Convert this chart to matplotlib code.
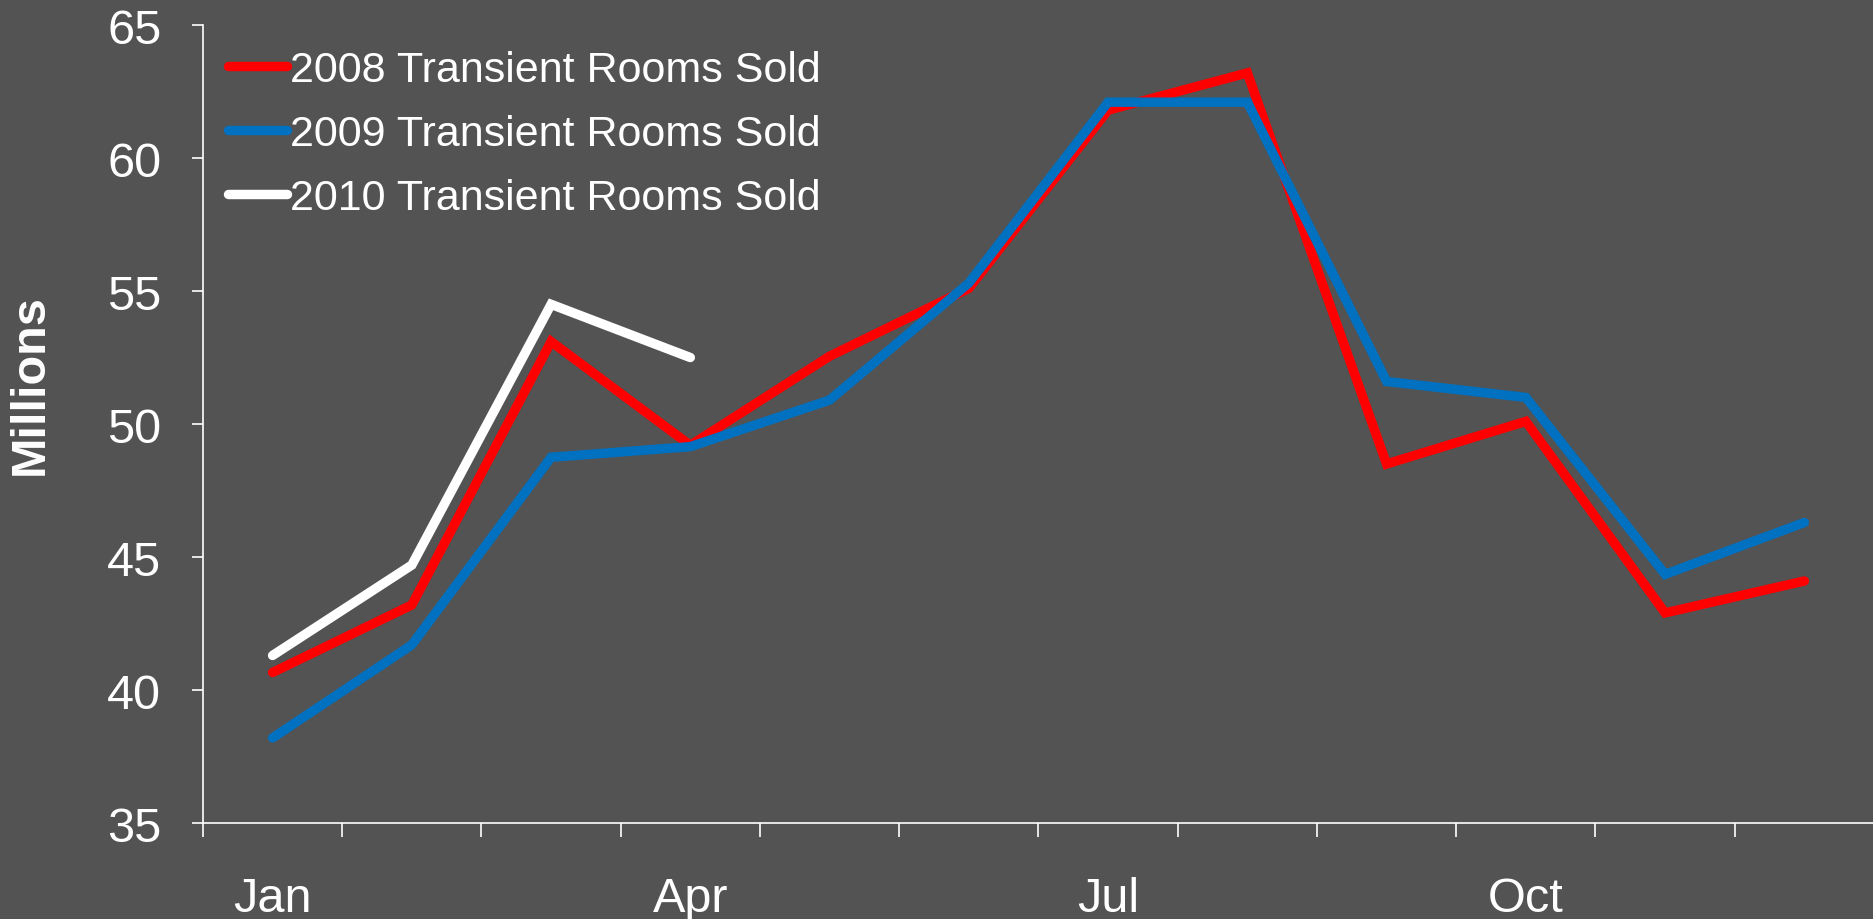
import matplotlib
matplotlib.use("Agg")
import matplotlib.pyplot as plt

# Monthly transient rooms sold (millions)
months = ["Jan", "Feb", "Mar", "Apr", "May", "Jun",
          "Jul", "Aug", "Sep", "Oct", "Nov", "Dec"]
rooms_2008 = [40.66, 43.2, 53.1, 49.2, 52.55, 55.1, 61.8, 63.2, 48.5, 50.1, 42.9, 44.1]
rooms_2009 = [38.2, 41.7, 48.75, 49.15, 50.9, 55.3, 62.1, 62.1, 51.6, 51.0, 44.35, 46.3]
rooms_2010 = [41.3, 44.7, 54.5, 52.5]
labeled_months = ["Jan", "Apr", "Jul", "Oct"]
y_ticks = [35, 40, 45, 50, 55, 60, 65]

series_labels = ["2008 Transient Rooms Sold",
                 "2009 Transient Rooms Sold",
                 "2010 Transient Rooms Sold"]
series_colors = ["#FF0000", "#0070C0", "#FFFFFF"]

FONT = "Liberation Sans"
BG = "#535353"
FG = "white"

fig = plt.figure(figsize=(18.74, 9.2), dpi=100, facecolor=BG)
ax = fig.add_axes([0.1083, 0.1043, 0.8917, 0.8674], facecolor=BG)

x_idx = list(range(len(months)))
for values, label, color in zip([rooms_2008, rooms_2009, rooms_2010],
                                series_labels, series_colors):
    ax.plot(x_idx[:len(values)], values, color=color, lw=6.8, label=label,
            solid_capstyle="round", solid_joinstyle="miter")

ax.set_xlim(-0.5, len(months) - 0.5)
ax.set_ylim(35, 65)

for side in ("top", "right"):
    ax.spines[side].set_visible(False)
for side in ("left", "bottom"):
    ax.spines[side].set_color(FG)
    ax.spines[side].set_linewidth(1.2)

# y axis
ax.set_yticks(y_ticks)
ax.set_yticklabels([str(v) for v in y_ticks], fontfamily=FONT, fontsize=35, color=FG)
ax.tick_params(axis="y", colors=FG, length=8, width=1.2, pad=22)

# x axis: tick marks at month boundaries, labels at selected month centres
ax.set_xticks([i - 0.5 for i in range(len(months) + 1)])
ax.set_xticklabels([])
ax.tick_params(axis="x", which="major", colors=FG, length=10, width=1.2)
ax.set_xticks([months.index(m) for m in labeled_months], minor=True)
ax.set_xticklabels(labeled_months, minor=True, fontfamily=FONT, fontsize=35, color=FG)
ax.tick_params(axis="x", which="minor", length=0, pad=38)

fig.text(30 / 1874, 1 - 385 / 920, "Millions", rotation=90, ha="center", va="center",
         fontfamily=FONT, fontweight="bold", fontsize=35, color=FG)

leg = ax.legend(loc="upper left", bbox_to_anchor=(0.0075, 0.985), frameon=False,
                prop={"family": FONT, "size": 31}, labelcolor=FG,
                handlelength=1.35, handletextpad=0.08, labelspacing=0.56,
                borderaxespad=0.0, borderpad=0.3)

fig.savefig("out.png", dpi=100, facecolor=BG)
